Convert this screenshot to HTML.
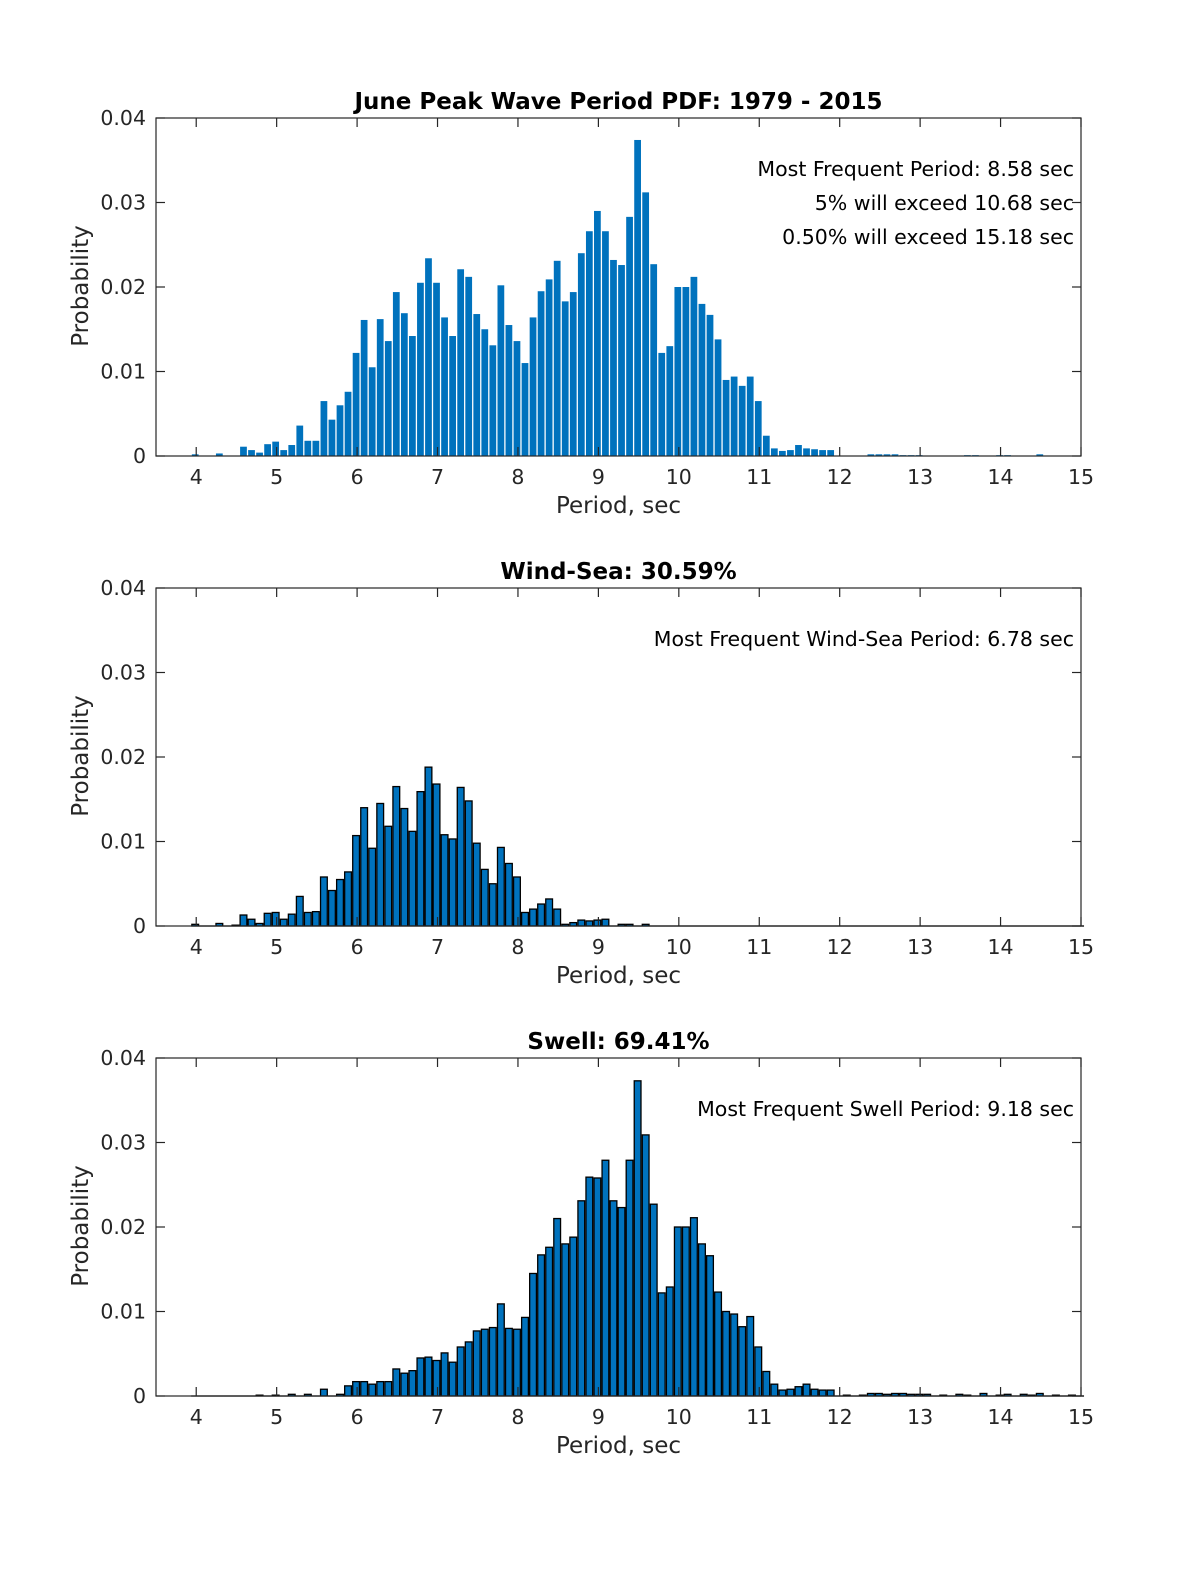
<!DOCTYPE html>
<html><head><meta charset="utf-8"><style>
html,body{margin:0;padding:0;background:#fff;overflow:hidden;width:1200px;height:1575px;}
svg{display:block;font-family:"DejaVu Sans","Liberation Sans",sans-serif;}
</style></head><body>
<svg id="fig" width="1200" height="1575" viewBox="0 0 1200 1575"></svg>
<script>
const periods = [];
for (let i = 0; i <= 110; i++) periods.push(+(4 + i * 0.1).toFixed(1));

const allPeriods = [4.0,4.3,4.6,4.7,4.8,4.9,5.0,5.1,5.2,5.3,5.4,5.5,5.6,5.7,5.8,5.9,6.0,6.1,6.2,6.3,6.4,6.5,6.6,6.7,6.8,6.9,7.0,7.1,7.2,7.3,7.4,7.5,7.6,7.7,7.8,7.9,8.0,8.1,8.2,8.3,8.4,8.5,8.6,8.7,8.8,8.9,9.0,9.1,9.2,9.3,9.4,9.5,9.6,9.7,9.8,9.9,10.0,10.1,10.2,10.3,10.4,10.5,10.6,10.7,10.8,10.9,11.0,11.1,11.2,11.3,11.4,11.5,11.6,11.7,11.8,11.9,12.4,12.5,12.6,12.7,12.8,12.9,13.0,13.6,13.7,14.0,14.1,14.5];
const allValues = [0.0002,0.0003,0.0011,0.0007,0.0004,0.0014,0.0017,0.0007,0.0013,0.0036,0.0018,0.0018,0.0065,0.0043,0.006,0.0076,0.0122,0.0161,0.0105,0.0162,0.0136,0.0194,0.0169,0.0142,0.0205,0.0234,0.0205,0.0164,0.0142,0.0221,0.0212,0.0168,0.015,0.0131,0.0202,0.0155,0.0136,0.011,0.0164,0.0195,0.0209,0.0231,0.0183,0.0194,0.024,0.0266,0.029,0.0266,0.0232,0.0226,0.0283,0.0374,0.0312,0.0227,0.0122,0.013,0.02,0.02,0.0212,0.018,0.0167,0.0138,0.009,0.0094,0.0083,0.0094,0.0065,0.0024,0.0009,0.0006,0.0007,0.0013,0.0009,0.0008,0.0007,0.0007,0.0002,0.0002,0.0002,0.0002,0.0001,0.0001,0.0001,0.0001,0.0001,0.0001,0.0001,0.0002];

const windPeriods = [4.0,4.3,4.5,4.6,4.7,4.8,4.9,5.0,5.1,5.2,5.3,5.4,5.5,5.6,5.7,5.8,5.9,6.0,6.1,6.2,6.3,6.4,6.5,6.6,6.7,6.8,6.9,7.0,7.1,7.2,7.3,7.4,7.5,7.6,7.7,7.8,7.9,8.0,8.1,8.2,8.3,8.4,8.5,8.6,8.7,8.8,8.9,9.0,9.1,9.3,9.4,9.6];
const windValues = [0.0002,0.0003,0.0001,0.0013,0.0008,0.0003,0.0015,0.0016,0.0008,0.0014,0.0035,0.0016,0.0017,0.0058,0.0042,0.0055,0.0064,0.0107,0.014,0.0092,0.0145,0.0118,0.0165,0.0139,0.0112,0.0159,0.0188,0.0168,0.0108,0.0103,0.0164,0.0148,0.0098,0.0067,0.005,0.0093,0.0074,0.0058,0.0016,0.002,0.0026,0.0032,0.002,0.0002,0.0004,0.0007,0.0006,0.0007,0.0008,0.0002,0.0002,0.0002];

const swellPeriods = [4.8,5.0,5.2,5.4,5.6,5.8,5.9,6.0,6.1,6.2,6.3,6.4,6.5,6.6,6.7,6.8,6.9,7.0,7.1,7.2,7.3,7.4,7.5,7.6,7.7,7.8,7.9,8.0,8.1,8.2,8.3,8.4,8.5,8.6,8.7,8.8,8.9,9.0,9.1,9.2,9.3,9.4,9.5,9.6,9.7,9.8,9.9,10.0,10.1,10.2,10.3,10.4,10.5,10.6,10.7,10.8,10.9,11.0,11.1,11.2,11.3,11.4,11.5,11.6,11.7,11.8,11.9,12.1,12.3,12.4,12.5,12.6,12.7,12.8,12.9,13.0,13.1,13.3,13.5,13.6,13.8,14.0,14.1,14.3,14.4,14.5,14.7,14.9];
const swellValues = [0.0001,0.0001,0.0002,0.0002,0.0008,0.0002,0.0012,0.0017,0.0017,0.0014,0.0017,0.0017,0.0032,0.0027,0.003,0.0045,0.0046,0.0042,0.0051,0.004,0.0058,0.0064,0.0077,0.0079,0.0081,0.0109,0.008,0.0079,0.0093,0.0145,0.0167,0.0176,0.021,0.018,0.0188,0.0231,0.0259,0.0258,0.0279,0.0231,0.0223,0.0279,0.0373,0.0309,0.0227,0.0122,0.0129,0.02,0.02,0.0211,0.018,0.0166,0.0123,0.01,0.0097,0.0082,0.0094,0.0058,0.0029,0.0014,0.0007,0.0008,0.0011,0.0014,0.0008,0.0007,0.0007,0.0001,0.0001,0.0003,0.0003,0.0002,0.0003,0.0003,0.0002,0.0002,0.0002,0.0001,0.0002,0.0001,0.0003,0.0001,0.0002,0.0002,0.0001,0.0003,0.0001,0.0001];

const xTicks = [4,5,6,7,8,9,10,11,12,13,14,15];
const yTicks = [0,0.01,0.02,0.03,0.04];
const yTickLabels = ["0","0.01","0.02","0.03","0.04"];

const NS = "http://www.w3.org/2000/svg";
const svg = document.getElementById("fig");
function mk(tag, attrs, parent) {
  const e = document.createElementNS(NS, tag);
  for (const k in attrs) e.setAttribute(k, attrs[k]);
  (parent || svg).appendChild(e);
  return e;
}

const L = 156, R = 1081;
const xMin = 3.5, xMax = 15;
function xScale(v) { return L + (v - xMin) / (xMax - xMin) * (R - L); }

function drawPanel(cfg) {
  const T = cfg.top, B = cfg.top + 338;
  const yScale = v => B - v / 0.04 * (B - T);
  const g = mk("g", {});
  
  
  const full = {};
  periods.forEach(p => full[p.toFixed(1)] = cfg.edge ? 0 : null);
  cfg.per.forEach((p, i) => full[p.toFixed(1)] = cfg.val[i]);
  const bw = 0.1 * (R - L) / (xMax - xMin) * 0.84;
  periods.forEach(p => {
    const v = full[p.toFixed(1)];
    if (v === null || v === undefined) return;
    const cx = xScale(p) - 1;
    const y = yScale(v);
    const r = mk("rect", {x: cx - bw / 2, y: y, width: bw, height: Math.max(B - y, 0.01),
      fill: "#0072bd", stroke: cfg.edge ? "#000" : "none", "stroke-width": cfg.edge ? 1.3 : 0}, g);
    
    
  });
  const box = mk("rect", {x: L, y: T, width: R - L, height: B - T, fill: "none", stroke: "#262626", "stroke-width": 1.2}, g);
  
  
  xTicks.forEach(t => {
    const x = xScale(t);
    mk("line", {x1: x, y1: B, x2: x, y2: B - 9, stroke: "#262626", "stroke-width": 1.2}, g);
    mk("line", {x1: x, y1: T, x2: x, y2: T + 9, stroke: "#262626", "stroke-width": 1.2}, g);
    const tx = mk("text", {x: x, y: B + 28, "text-anchor": "middle", "font-size": 20.5, fill: "#262626"}, g);
    tx.textContent = t;
    
    
  });
  yTicks.forEach((t, i) => {
    const y = yScale(t);
    mk("line", {x1: L, y1: y, x2: L + 9, y2: y, stroke: "#262626", "stroke-width": 1.2}, g);
    mk("line", {x1: R, y1: y, x2: R - 9, y2: y, stroke: "#262626", "stroke-width": 1.2}, g);
    const ty = mk("text", {x: 146, y: y + 7, "text-anchor": "end", "font-size": 20.5, fill: "#262626"}, g);
    ty.textContent = yTickLabels[i];
    
    
  });
  const xl = mk("text", {x: (L + R) / 2, y: B + 57, "text-anchor": "middle", "font-size": 23, fill: "#262626"}, g);
  xl.textContent = "Period, sec";
  
  
  const yl = mk("text", {x: 0, y: 0, "text-anchor": "middle", "font-size": 23, fill: "#262626",
    transform: "translate(88," + ((T + B) / 2 - 1) + ") rotate(-90)"}, g);
  yl.textContent = "Probability";
  
  
  const tt = mk("text", {x: (L + R) / 2, y: T - 9, "text-anchor": "middle", "font-size": 23, "font-weight": "bold", fill: "#000"}, g);
  tt.textContent = cfg.title;
  
  
  cfg.notes.forEach((n, i) => {
    const a = mk("text", {x: 1074, y: T + 58 + i * 34, "text-anchor": "end", "font-size": 20.5, fill: "#000"}, g);
    a.textContent = n;
    
    
  });
}

drawPanel({name: "all-sea-panel", top: 118, per: allPeriods, val: allValues, edge: false,
  title: "June Peak Wave Period PDF: 1979 - 2015",
  notes: ["Most Frequent Period: 8.58 sec", "5% will exceed 10.68 sec", "0.50% will exceed 15.18 sec"]});
drawPanel({name: "wind-sea-panel", top: 588, per: windPeriods, val: windValues, edge: true,
  title: "Wind-Sea: 30.59%", notes: ["Most Frequent Wind-Sea Period: 6.78 sec"]});
drawPanel({name: "swell-panel", top: 1058, per: swellPeriods, val: swellValues, edge: true,
  title: "Swell: 69.41%", notes: ["Most Frequent Swell Period: 9.18 sec"]});
</script>
</body></html>
